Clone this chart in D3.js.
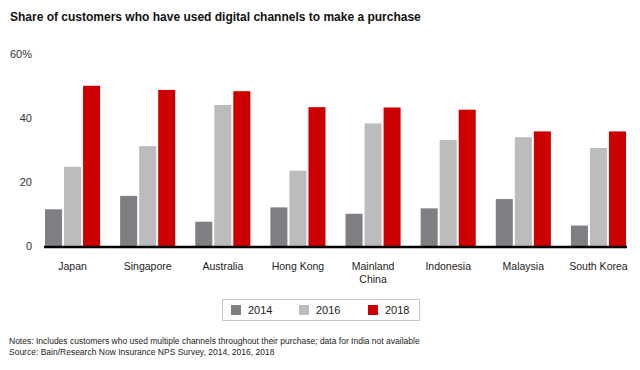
<!DOCTYPE html>
<html>
<head>
<meta charset="utf-8">
<script src="https://cdn.jsdelivr.net/npm/d3@7"></script>
<style>
  body { margin: 0; background: #fff; }
  svg { font-family: Arial, "Liberation Sans", sans-serif; display: block; }
</style>
</head>
<body>
<div id="chart"></div>
<script>
const countries = ['Japan', 'Singapore', 'Australia', 'Hong Kong', 'Mainland China', 'Indonesia', 'Malaysia', 'South Korea'];
const years = ['2014', '2016', '2018'];
const values2014 = [11.5, 15.7, 7.6, 12.1, 10.1, 11.8, 14.7, 6.4];
const values2016 = [24.8, 31.3, 44.2, 23.6, 38.4, 33.2, 34.1, 30.7];
const values2018 = [50.2, 48.9, 48.5, 43.5, 43.4, 42.7, 35.9, 35.9];
const yTicks = [0, 20, 40, 60];
const colors = ['#7f7f83', '#bcbcbe', '#cc0000'];

const series = [values2014, values2016, values2018];
const data = countries.map((c, i) => ({ country: c, vals: years.map((y, j) => ({ year: y, value: series[j][i] })) }));

const width = 640, height = 370;
const svg = d3.select('#chart').append('svg')
  .attr('width', width)
  .attr('height', height);

// title
svg.append('text')
  .attr('x', 10).attr('y', 21)
  .attr('font-size', 12).attr('font-weight', 'bold')
  .attr('fill', '#111')
  .text('Share of customers who have used digital channels to make a purchase');

const x0 = d3.scaleBand()
  .domain(countries)
  .range([45, 626])
  .paddingInner(20 / 75)
  .paddingOuter(0);

const x1 = d3.scaleBand()
  .domain(years)
  .range([0, x0.bandwidth()])
  .paddingInner(2 / 19);

const y = d3.scaleLinear()
  .domain([0, 60])
  .range([246, 54.5]);

const color = d3.scaleOrdinal().domain(years).range(colors);

// y tick labels
svg.append('g')
  .selectAll('text')
  .data(yTicks)
  .enter()
  .append('text')
  .attr('x', 32)
  .attr('y', d => y(d))
  .attr('dy', '0.35em')
  .attr('text-anchor', 'end')
  .attr('font-size', 11)
  .attr('fill', '#333')
  .text(d => d === 60 ? d + '%' : d);

// bars
const groups = svg.append('g')
  .selectAll('g')
  .data(data)
  .enter()
  .append('g')
  .attr('transform', d => `translate(${x0(d.country)},0)`);

groups.selectAll('rect')
  .data(d => d.vals)
  .enter()
  .append('rect')
  .attr('x', d => x1(d.year))
  .attr('y', d => y(d.value))
  .attr('width', x1.bandwidth())
  .attr('height', d => y(0) - y(d.value))
  .attr('fill', d => color(d.year));

// baseline
svg.append('line')
  .attr('x1', x0.range()[0] - 1)
  .attr('x2', x0.range()[1] + 1)
  .attr('y1', y(0) + 1)
  .attr('y2', y(0) + 1)
  .attr('stroke', '#000')
  .attr('stroke-width', 2.5);

// category labels
const xAxis = d3.axisBottom(x0).tickSize(0).tickPadding(0);
const axisG = svg.append('g')
  .attr('transform', `translate(0,${y(0)})`)
  .call(xAxis);
axisG.select('.domain').remove();
axisG.selectAll('text').remove();
axisG.selectAll('.tick').each(function (d) {
  const t = d3.select(this).append('text')
    .attr('text-anchor', 'middle')
    .attr('font-size', 10.5)
    .attr('fill', '#222')
    .attr('font-family', 'Arial, "Liberation Sans", sans-serif');
  const lines = d === 'Mainland China' ? ['Mainland', 'China'] : [d];
  lines.forEach((l, i) => {
    t.append('tspan').attr('x', 0).attr('y', 24 + i * 13).text(l);
  });
});

// legend
const legend = svg.append('g').attr('transform', 'translate(222,299)');
legend.append('rect')
  .attr('x', 0.5).attr('y', 0.5)
  .attr('width', 197).attr('height', 21)
  .attr('fill', '#fff')
  .attr('stroke', '#c8c8c8');
const legendX = [9, 77, 146];
years.forEach((yr, i) => {
  legend.append('rect')
    .attr('x', legendX[i]).attr('y', 6)
    .attr('width', 10).attr('height', 10)
    .attr('fill', color(yr));
  legend.append('text')
    .attr('x', legendX[i] + 17).attr('y', 11)
    .attr('dy', '0.35em')
    .attr('font-size', 11)
    .attr('fill', '#222')
    .text(yr);
});

// notes
const notes = [
  'Notes: Includes customers who used multiple channels throughout their purchase; data for India not available',
  'Source: Bain/Research Now Insurance NPS Survey, 2014, 2016, 2018'
];
svg.append('g')
  .selectAll('text')
  .data(notes)
  .enter()
  .append('text')
  .attr('x', 9)
  .attr('y', (d, i) => 344 + i * 11)
  .attr('font-size', 8.5)
  .attr('fill', '#222')
  .text(d => d);
</script>
</body>
</html>
